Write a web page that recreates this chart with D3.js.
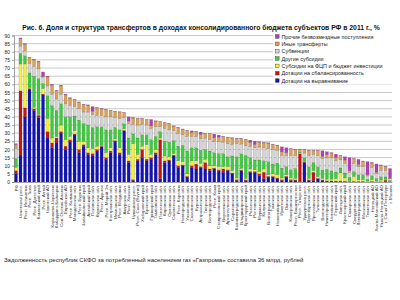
<!DOCTYPE html>
<html><head><meta charset="utf-8">
<script src="https://cdn.jsdelivr.net/npm/d3@7"></script>
<style>body{margin:0;background:#fff}svg{display:block;font-family:"Liberation Sans",Arial,sans-serif}</style>
</head><body><svg id="c" width="400" height="300"></svg>
<script>
const regions = ["РФ","Чеченская респ.","Респ. Ингушетия","Респ. Тыва","Респ. Дагестан","Камчатский край","Респ. Алтай","Чукотский АО","Карачаево-Черкесия","Кабардино-Балкария","Сев. Осетия-Алания","Еврейская АО","Респ. Калмыкия","Магаданская обл.","Респ. Бурятия","Забайкальский край","Алтайский край","Псковская обл.","Курганская обл.","Респ. Адыгея","Респ. Марий Эл","Костромская обл.","Ивановская обл.","Респ. Мордовия","Амурская обл.","Респ. Хакасия","Чувашская респ.","Респ. Саха (Якутия)","Хабаровский край","Брянская обл.","Приморский край","Тамбовская обл.","Пензенская обл.","Кировская обл.","Орловская обл.","Смоленская обл.","Респ. Карелия","Новгородская обл.","Ульяновская обл.","Сахалинская обл.","Курская обл.","Астраханская обл.","Тверская обл.","Белгородская обл.","Респ. Коми","Ставропольский край","Воронежская обл.","Архангельская обл.","Саратовская обл.","Калининградская обл.","Владимирская обл.","Краснодарский край","Рязанская обл.","Ростовская обл.","Мурманская обл.","Калужская обл.","Волгоградская обл.","Томская обл.","Новосибирская обл.","Иркутская обл.","Омская обл.","Кемеровская обл.","Респ. Башкортостан","Респ. Татарстан","Удмуртская респ.","Оренбургская обл.","Ярославская обл.","Тульская обл.","Вологодская обл.","Нижегородская обл.","Челябинская обл.","Пермский край","Липецкая обл.","Красноярский край","Самарская обл.","Свердловская обл.","Ленинградская обл.","Московская обл.","Тюменская обл.","Ненецкий АО","Ханты-Мансийский АО","Ямало-Ненецкий АО","г. Санкт-Петербург","г. Москва"];

const dotVyr  = [5.3,16.5,40,57,44,39.5,53.5,27,21,24,30,20,25,29,18,22,17,16,19,21.6,14,18,25,17,31.4,12,1,13,15,13,14,17,2,12,13,16,9,10,3,9,8,9,8,7,8,7,6,7,5,1,7,1,6,6,4,2,3,3,2,1,3,1,1,0.3,12,1,1,2,1,0.5,0.5,0.3,0.3,0.3,0.2,0.2,0.2,0.2,0.1,0.2,0.1,0.1,0.1,0.1];
const dotSbal = [1.7,39.5,5.5,0.5,1,1.5,0.5,4,3,3,1,2,1,0.5,2,1,1,1.5,1,0.4,1,1,0.5,1,0.3,1,0.5,1,5,1,1,1,24,1,0.5,0.5,1,0.5,0.5,1,3,0.5,4,1,0.5,0.5,2,0.5,0.5,0.5,0.3,0.3,0.5,0.5,1,4,0.5,0.5,0.5,0.5,0.5,0.5,0.3,17,0.3,0.3,5,0.3,0.3,0.3,0.3,0.3,0.3,0.2,0.2,0.2,0.2,0.2,0.1,0.2,0.1,0.1,1,0.1];
const subFcp  = [2,16.5,27,0.5,1,0.5,3.5,8,3,1,4,4,2,2,5,2,3,3,2,0.5,3,2,1,3,1,4,22,3,2,9,2,2,1,3,2,1,3,2,1.5,3,2,2,2,2,1.5,2,1.5,2,1.5,1,1,1,1.5,1,1.5,2,1,1.5,2,1,1,1,1,0.5,0.5,1,1,1,1,1,1,1.5,5,2,0.5,3,1,1,0.5,1,0.5,1,0.5,0.3];
const subOth  = [5.5,6.5,5,9,19,22,3,14,20,16,13,14,12,9,13,11,14,13,12,11.4,14,11,7,11,3,10,6,10,7,6,9,8,4,9,9,8,9,10,14,8,8,8,6,9,8,8,8,6,9,13,9,14,7,6,7,5,8,6,7,6,5,5,6,0.5,2,7,5,6,5,6,5,4,3,3,2,3,3,3,1,2.5,1.5,2,1.5,0.5];
const subv    = [6,4.5,3,6,6,6,4,6,7,7,6,8,7,6,7,7,8,8,7,7,8,8,6,7,4,9,6,8,6.5,6,7,6,3,8,7.5,6,8,6.5,9,7,7,7,7,7,7,7.5,7,8,7,8,6,6,7,7.5,8,8,8,9,8,8,7,9,8,0.5,3,7,5,7,7,7,8,7,5,6,3,5,5,5,2,5,3,4,4,1];
const inye    = [2.5,4.5,4,3.5,4,4.3,0.5,5.5,5.5,5,5,5.5,4.5,4,4,4.5,4,2,4.5,4,4.3,4,3.8,4,2.8,1.5,3.8,4,3.5,3.2,1.5,3.4,3,3.4,3.7,2.8,3.5,3.4,3.6,2.6,3,2.8,2.8,3.6,2.2,2.6,3.5,3.9,4,3.3,3.2,3.8,2.5,2,3,3,3.4,3.1,3,2,1.5,3.9,3.7,1.2,2,3.1,2.4,3.1,1.5,2,3,2,2.5,2,1,2.9,1.5,3.3,0.8,2.8,0.9,3.1,2.2,0.3];
const proch   = [0.5,0.5,0.5,0.2,0.3,0.3,2.6,0.4,0.5,0.3,0.4,0.4,0.3,0.3,0.2,0.3,0.4,2.8,0.2,0.2,0.2,0.1,0.2,0.1,0.2,2.5,0.3,0.2,0.2,0.2,3.9,0.2,0.2,0.2,0.2,0.2,0.2,0.2,0.2,0.8,0.2,1.3,0.2,0.2,2.2,1.2,0.2,0.2,0.2,0.2,0.2,0.2,1.2,2.1,0.2,0.3,0.2,0.2,0.2,3.1,3,0.2,0.2,0.2,0.2,0.2,0.2,0.2,3.4,1.8,0.2,2,0.2,2,8,0.2,3,0.2,8,0.2,5,0.2,0.2,6];

const seriesNames = ["Дотации на выравнивание","Дотации на сбалансированность","Субсидии на ФЦП и бюджет инвестиции","Другие субсидии","Субвенции","Иные трансферты","Прочие безвозмездные поступления"];
const seriesColors = ["#1212b8","#c81414","#f4f03a","#3ccc3c","#d4d4d4","#dba05a","#b43cbc"];
const yTicks = d3.range(0, 91, 5);
const titleText = "Рис. 6. Доля и структура трансфертов в доходах консолидированного бюджета субъектов РФ в 2011 г., %";
const noteText = "Задолженность республик СКФО за потребленный населением газ «Газпрома» составила 36 млрд. рублей";

const FONT = "'Liberation Sans', Arial, sans-serif";
const seriesData = [dotVyr, dotSbal, subFcp, subOth, subv, inye, proch];
const rows = regions.map((r, i) => {
  const o = {region: r};
  seriesNames.forEach((s, k) => o[s] = seriesData[k][i]);
  return o;
});
const stack = d3.stack().keys(seriesNames)(rows);

const svg = d3.select("#c");
const x = d3.scaleBand().domain(regions).range([14, 392]).paddingInner(0.32).paddingOuter(0.1);
const y = d3.scaleLinear().domain([0, 90]).range([182, 35.5]);

// grid
svg.append("g").selectAll("line").data(yTicks.filter(d => d > 0)).join("line")
  .attr("x1", 14).attr("x2", 392).attr("y1", d => y(d)).attr("y2", d => y(d))
  .attr("stroke", "#c8c8c8").attr("stroke-width", 1);

// bars
const color = d3.scaleOrdinal().domain(seriesNames).range(seriesColors);
svg.append("g").selectAll("g").data(stack).join("g")
  .attr("fill", d => color(d.key))
  .selectAll("rect").data(d => d).join("rect")
  .attr("x", d => x(d.data.region)).attr("width", x.bandwidth())
  .attr("y", d => y(d[1])).attr("height", d => Math.max(0, y(d[0]) - y(d[1])))
  .attr("stroke", "rgba(40,40,40,0.45)").attr("stroke-width", 0.3);

// y axis
const ya = svg.append("g").attr("transform", "translate(14,0)")
  .call(d3.axisLeft(y).tickValues(yTicks).tickSize(2).tickPadding(2))
  .attr("font-family", FONT);
ya.selectAll("text").attr("font-size", 5).attr("fill", "#222").style("font-family", FONT);
ya.selectAll("line,path").attr("stroke", "#666").attr("stroke-width", 0.6);

// x axis
const xa = svg.append("g").attr("transform", "translate(0,182)")
  .call(d3.axisBottom(x).tickSize(0).tickPadding(2))
  .attr("font-family", FONT);
xa.select("path").attr("stroke", "#666").attr("stroke-width", 0.6);
xa.selectAll("text").attr("font-size", 4.4).attr("fill", "#333").style("font-family", FONT)
  .attr("text-anchor", "end").attr("dy", "0.35em")
  .attr("transform", "translate(0,2) rotate(-90)")
  .attr("x", -1).attr("y", 0);

// legend
const lg = svg.append("g").attr("font-family", FONT);
lg.append("rect").attr("x", 273).attr("y", 32.5).attr("width", 119).attr("height", 52).attr("fill", "#fff");
const items = seriesNames.slice().reverse();
items.forEach((s, i) => {
  const yy = 36.7 + i * 7.35;
  lg.append("rect").attr("x", 275.5).attr("y", yy - 2).attr("width", 3.6).attr("height", 3.6)
    .attr("fill", color(s)).attr("stroke", "#333").attr("stroke-width", 0.4);
  lg.append("text").attr("x", 281.5).attr("y", yy).attr("dy", "0.35em")
    .attr("font-size", 5.4).attr("fill", "#222").text(s);
});

// title
svg.append("text").attr("x", 201).attr("y", 30).attr("text-anchor", "middle").attr("font-family", FONT)
  .attr("font-size", 6.8).attr("font-weight", "bold").attr("fill", "#111").text(titleText);
// note
svg.append("text").attr("x", 4).attr("y", 262).attr("font-family", FONT)
  .attr("font-size", 6).attr("fill", "#222").text(noteText);
</script></body></html>
